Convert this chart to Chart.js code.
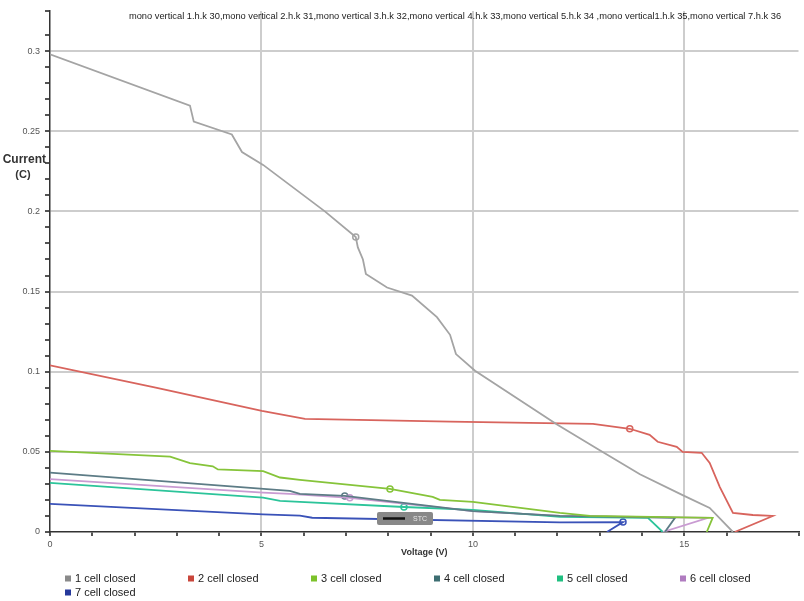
<!DOCTYPE html>
<html>
<head>
<meta charset="utf-8">
<script src="https://cdn.jsdelivr.net/npm/chart.js@4.4.1/dist/chart.umd.min.js"></script>
<style>
  html, body { margin: 0; padding: 0; background: #fff; }
  #wrap { width: 804px; height: 601px; position: relative; }
</style>
</head>
<body>
<div id="wrap"><canvas id="c"></canvas></div>
<script>
// I–V curves of a mono vertical module with 1..7 cells closed
const seriesNames = ['1 cell closed', '2 cell closed', '3 cell closed', '4 cell closed',
                     '5 cell closed', '6 cell closed', '7 cell closed'];
const legendLabels = ['1 cell closed', '2 cell closed', '3 cell closed', '4 cell closed',
                      '5 cell closed', '6 cell closed', '7 cell closed'];
const chartTitle = 'mono vertical 1.h.k 30,mono vertical 2.h.k 31,mono vertical 3.h.k 32,mono vertical 4.h.k 33,mono vertical 5.h.k 34 ,mono vertical1.h.k 35,mono vertical 7.h.k 36';

const voltage1 = [0, 3.31, 3.40, 4.30, 4.54, 5.04, 6.50, 7.23, 7.28, 7.40, 7.47, 7.97, 8.56, 9.15, 9.46, 9.60, 10.05, 11.99, 13.0, 13.95, 14.96, 15.60, 16.15];
const current1 = [0.298, 0.266, 0.256, 0.248, 0.237, 0.229, 0.200, 0.184, 0.1775, 0.170, 0.161, 0.1525, 0.1475, 0.134, 0.123, 0.111, 0.1006, 0.067, 0.051, 0.036, 0.023, 0.015, 0.0];

const voltage2 = [0, 2.5, 5.01, 6.03, 9.46, 12.84, 13.71, 14.18, 14.37, 14.82, 14.96, 15.41, 15.60, 15.84, 16.15, 16.62, 17.09, 16.19];
const current2 = [0.104, 0.090, 0.0756, 0.0706, 0.0688, 0.0675, 0.0644, 0.0606, 0.0563, 0.0531, 0.050, 0.0494, 0.0431, 0.028, 0.0119, 0.0106, 0.010, 0.0];

const voltage3 = [0, 2.84, 3.31, 3.85, 3.97, 5.04, 5.44, 5.91, 8.04, 9.05, 9.22, 10.0, 12.06, 12.77, 15.67, 15.53];
const current3 = [0.0506, 0.047, 0.043, 0.041, 0.039, 0.038, 0.034, 0.0325, 0.0269, 0.0219, 0.020, 0.0188, 0.0119, 0.010, 0.0088, 0.0];

const voltage4 = [0, 5.67, 5.91, 6.97, 10.0, 12.06, 14.78, 14.54];
const current4 = [0.037, 0.0256, 0.0238, 0.0225, 0.013, 0.010, 0.0088, 0.0];

const voltage5 = [0, 5.04, 5.44, 5.91, 8.37, 10.0, 12.06, 14.14, 14.49];
const current5 = [0.0306, 0.0215, 0.0194, 0.0188, 0.0156, 0.0138, 0.0094, 0.0088, 0.0];

const voltage6 = [0, 5.04, 5.67, 7.09, 10.0, 12.06, 15.56, 14.49];
const current6 = [0.033, 0.0245, 0.0238, 0.0213, 0.013, 0.010, 0.0088, 0.0];

const voltage7 = [0, 5.04, 5.91, 6.20, 12.06, 13.55, 13.17];
const current7 = [0.0175, 0.011, 0.0102, 0.0089, 0.006, 0.0062, 0.0];

// maximum power points, one per series
const mppVoltage = [7.23, 13.71, 8.04, 6.97, 8.37, 7.09, 13.55];
const mppCurrent = [0.184, 0.0644, 0.0269, 0.0225, 0.0156, 0.0213, 0.0062];

const lineColors   = ['#a4a4a4', '#d8645d', '#86c43a', '#5d7c86', '#2cc49a', '#c99bd2', '#3a52b8'];
const legendColors = ['#8a8a8a', '#c9463b', '#7cc22a', '#3d6e72', '#1fbf80', '#b07cc0', '#26399b'];

const voltages = [voltage1, voltage2, voltage3, voltage4, voltage5, voltage6, voltage7];
const currents = [current1, current2, current3, current4, current5, current6, current7];

const datasets = seriesNames.map((name, s) => ({
  label: name,
  data: voltages[s].map((v, i) => ({ x: v, y: currents[s][i] })),
  borderColor: lineColors[s],
  borderWidth: 1.8,
  pointRadius: 0,
  tension: 0,
  showLine: true,
  fill: false
}));

datasets.push({
  label: 'MPP',
  data: mppVoltage.map((v, i) => ({ x: v, y: mppCurrent[i] })),
  showLine: false,
  pointRadius: 3,
  pointBorderWidth: 1.5,
  pointBackgroundColor: '#ffffff',
  pointBorderColor: lineColors
});

const FONT = '"Liberation Sans", Arial, sans-serif';

const overlay = {
  id: 'overlay',
  afterDatasetsDraw(chart) {
    const ctx = chart.ctx;
    ctx.save();
    // STC badge
    const bx = 377, by = 512, bw = 56, bh = 13;
    ctx.fillStyle = '#888888';
    ctx.beginPath();
    ctx.roundRect(bx, by, bw, bh, 2);
    ctx.fill();
    ctx.strokeStyle = '#111';
    ctx.lineWidth = 2.5;
    ctx.beginPath();
    ctx.moveTo(bx + 6, by + 6.5);
    ctx.lineTo(bx + 28, by + 6.5);
    ctx.stroke();
    ctx.fillStyle = '#e6e6e6';
    ctx.font = '7px ' + FONT;
    ctx.textBaseline = 'middle';
    ctx.textAlign = 'left';
    ctx.fillText('STC', bx + 36, by + 7);
    ctx.restore();
  },
  afterDraw(chart) {
    const ctx = chart.ctx;
    ctx.save();
    // title
    ctx.fillStyle = '#222';
    ctx.font = '9.3px ' + FONT;
    ctx.textAlign = 'center';
    ctx.textBaseline = 'middle';
    ctx.fillText(chartTitle, 455, 16);
    // y axis caption
    ctx.font = 'bold 12px ' + FONT;
    ctx.fillStyle = '#333';
    ctx.textAlign = 'right';
    ctx.fillText('Current', 46, 160);
    ctx.textAlign = 'center';
    ctx.font = 'bold 11px ' + FONT;
    ctx.fillText('(C)', 23, 175);
    // legend
    ctx.font = '11px ' + FONT;
    ctx.textAlign = 'left';
    legendLabels.forEach((lab, i) => {
      const col = i % 6, row = Math.floor(i / 6);
      const x = 65 + col * 123;
      const y = 579 + row * 14;
      ctx.fillStyle = legendColors[i];
      ctx.fillRect(x, y - 3.5, 6, 6);
      ctx.fillStyle = '#222';
      ctx.fillText(lab, x + 10, y);
    });
    ctx.restore();
  }
};

new Chart(document.getElementById('c'), {
  type: 'line',
  data: { datasets },
  options: {
    responsive: true,
    maintainAspectRatio: false,
    animation: false,
    devicePixelRatio: 1,
    layout: { padding: { top: 11, left: 0, right: 0, bottom: 39 } },
    plugins: { legend: { display: false }, tooltip: { enabled: false }, title: { display: false } },
    scales: {
      x: {
        type: 'linear',
        min: 0,
        max: 17.7,
        afterFit: s => { s.height = 30; },
        ticks: {
          stepSize: 1,
          autoSkip: false,
          maxRotation: 0,
          padding: 3,
          color: '#555',
          font: { family: FONT, size: 9 },
          callback: v => (Math.abs(v % 5) < 1e-9 ? String(v) : '')
        },
        grid: {
          color: c => (c.tick && Math.abs(c.tick.value % 5) < 1e-9 && c.tick.value > 0 ? '#cdcdcd' : 'rgba(0,0,0,0)'),
          lineWidth: 2,
          tickColor: '#555',
          tickLength: 4
        },
        border: { color: '#333', width: 1.5 },
        title: {
          display: true,
          text: 'Voltage (V)',
          color: '#333',
          font: { family: FONT, size: 9, weight: 'bold' },
          padding: { top: 2, bottom: 4 }
        }
      },
      y: {
        type: 'linear',
        min: 0,
        max: 0.325,
        afterFit: s => { s.width = 50; },
        ticks: {
          stepSize: 0.01,
          autoSkip: false,
          padding: 5,
          color: '#555',
          font: { family: FONT, size: 9 },
          callback: v => {
            const k = Math.round(v * 100);
            return (k % 5 === 0 && Math.abs(v * 100 - k) < 1e-6) ? String(k / 100) : '';
          }
        },
        grid: {
          color: c => {
            if (!c.tick) return 'rgba(0,0,0,0)';
            const k = Math.round(c.tick.value * 100);
            return (k > 0 && k % 5 === 0 && Math.abs(c.tick.value * 100 - k) < 1e-6) ? '#cdcdcd' : 'rgba(0,0,0,0)';
          },
          lineWidth: 2,
          tickColor: '#555',
          tickLength: 5
        },
        border: { color: '#333', width: 1.5 }
      }
    }
  },
  plugins: [overlay]
});
</script>
</body>
</html>
